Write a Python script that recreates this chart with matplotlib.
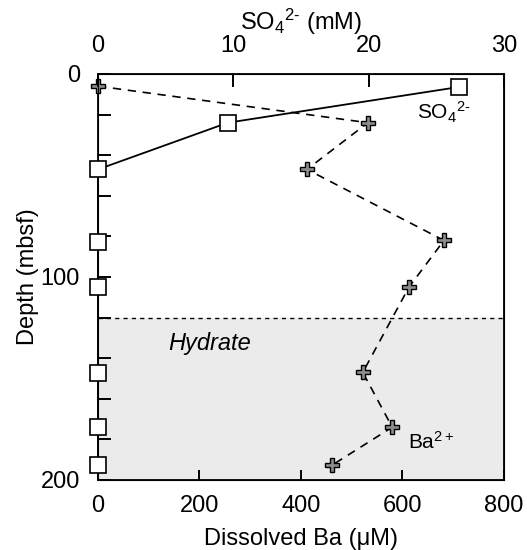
import matplotlib
matplotlib.use("Agg")
import matplotlib.pyplot as plt

plt.rcParams['font.family'] = ['Liberation Sans', 'DejaVu Sans']
plt.rcParams['mathtext.fontset'] = 'custom'
plt.rcParams['mathtext.rm'] = 'Liberation Sans'
plt.rcParams['mathtext.it'] = 'Liberation Sans:italic'
plt.rcParams['mathtext.default'] = 'regular'

# Data
so4_depth = [6.4, 24, 47, 82.6, 105, 147.5, 174, 192.6]
so4_mM = [26.7, 9.6, 0, 0, 0, 0, 0, 0]
ba_depth = [6, 24, 47, 82, 105, 147, 174, 192.6]
ba_uM = [0, 532, 412, 682, 613, 522, 580, 462]
hydrate_top = 120
depth_max = 200

FS = 17

fig = plt.figure(figsize=(5.27, 5.5), dpi=100)
ax = fig.add_axes([0.186, 0.1273, 0.770, 0.7382])

ax.axhspan(hydrate_top, depth_max, color='#ebebeb', zorder=0, lw=0)
ax.axhline(hydrate_top, color='black', ls=(0, (3, 3)), lw=1.0, zorder=1)

ax.plot(ba_uM, ba_depth, ls=(0, (5, 4)), color='black', lw=1.2,
        marker='P', markersize=10, markerfacecolor='#8c8c8c',
        markeredgecolor='black', markeredgewidth=1.0, clip_on=False, zorder=3)

ax.set_xlim(0, 800)
ax.set_ylim(depth_max, 0)
ax.set_xticks([0, 200, 400, 600, 800])
ax.set_yticks([0, 100, 200])
ax.set_yticks(range(0, 201, 20), minor=True)
ax.tick_params(axis='both', direction='in', length=9, width=1.4, labelsize=FS)
ax.tick_params(axis='y', which='minor', direction='in', length=9, width=1.4)
ax.tick_params(axis='x', length=7)
ax.tick_params(axis='y', pad=13)
ax.tick_params(axis='x', pad=11)
ax.set_xlabel('Dissolved Ba (μM)', fontsize=FS, labelpad=8)
ax.set_ylabel('Depth (mbsf)', fontsize=FS, labelpad=1)
for s in ax.spines.values():
    s.set_linewidth(1.3)

ax2 = ax.twiny()
ax2.plot(so4_mM, so4_depth, ls='-', color='black', lw=1.3,
         marker='s', markersize=12, markerfacecolor='white',
         markeredgecolor='black', markeredgewidth=1.2, clip_on=False, zorder=4)
ax2.set_xlim(0, 30)
ax2.set_xticks([0, 10, 20, 30])
ax2.tick_params(axis='x', direction='in', length=9, width=1.4, labelsize=FS, pad=12)
ax2.set_xlabel(r'SO$_4$$^{2\text{-}}$ (mM)', fontsize=FS, labelpad=4)
ax2.set_ylim(depth_max, 0)

ax.text(138, 133, 'Hydrate', style='italic', fontsize=FS, va='center', ha='left')
ax.text(628, 19, r'SO$_4$$^{2\text{-}}$', fontsize=15, va='center', ha='left')
ax.text(611, 181, r'Ba$^{2+}$', fontsize=15, va='center', ha='left')

fig.savefig('out.png', dpi=100)
